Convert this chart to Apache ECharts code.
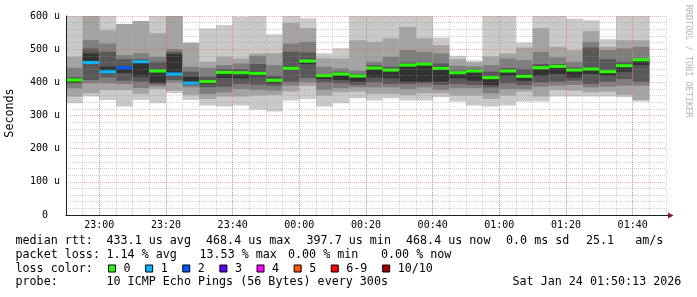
<!DOCTYPE html>
<html>
<head>
<meta charset="utf-8">
<title>smokeping</title>
<script src="https://cdn.jsdelivr.net/npm/echarts/dist/echarts.min.js"></script>
<style>
html, body { margin: 0; padding: 0; background: #fff; }
#chart { width: 697px; height: 297px; }
</style>
</head>
<body>
<div id="chart"></div>
<script>
/*每列的开始时间, 5分钟一步*/
var times = ['22:50','22:55','23:00','23:05','23:10','23:15','23:20','23:25','23:30','23:35',
    '23:40','23:45','23:50','23:55','00:00','00:05','00:10','00:15','00:20','00:25',
    '00:30','00:35','00:40','00:45','00:50','00:55','01:00','01:05','01:10','01:15',
    '01:20','01:25','01:30','01:35','01:40'];

/*sorted pings, us*/
var ping1  = [337,357,347,327,347,337,367,347,330,327,330,317,312,345,350,327,337,352,345,352,345,345,355,342,330,327,330,342,342,357,357,357,357,355,342];
var ping2  = [357,367,377,377,365,380,375,362,350,357,357,360,362,372,389,360,370,372,365,365,362,367,367,360,360,350,360,372,357,377,375,370,372,362,347];
var ping3  = [382,397,397,395,383,388,400,385,365,370,380,377,375,390,400,377,382,385,385,385,380,385,377,382,382,367,380,380,387,390,392,385,387,390,390];
var ping4  = [397,407,415,405,402,395,407,392,385,387,395,393,390,402,413,400,397,392,400,395,395,397,392,395,392,385,397,392,400,402,405,395,402,410,402];
var ping5  = [400,460,432,428,417,398,425,398,395,413,412,418,398,437,455,410,407,402,415,412,402,402,402,412,405,392,420,405,420,425,415,425,420,432,452];
var ping6  = [407,487,447,444,462,434,485,417,402,430,429,427,406,442,464,420,425,419,443,437,452,455,442,429,434,414,434,418,444,448,437,440,432,450,468];
var ping7  = [415,502,492,470,470,462,492,432,417,440,440,455,420,492,490,422,432,425,452,447,460,460,457,435,440,432,443,440,455,455,445,505,470,462,472];
var ping8  = [444,527,517,482,488,477,500,447,444,452,457,480,452,517,522,447,442,435,462,477,497,492,487,450,448,452,472,467,492,475,462,522,497,502,507];
var ping9  = [477,600,557,576,585,548,600,519,462,477,472,487,488,580,563,473,472,527,522,533,567,533,512,470,460,478,487,505,563,507,497,555,507,527,527];
var ping10 = [600,600,600,576,585,600,600,519,562,573,598,600,545,600,593,488,503,600,600,600,600,600,535,480,466,600,600,520,600,600,592,587,530,600,600];
var median = [407,460,432,444,462,434,425,398,402,430,429,427,406,442,464,420,425,419,443,437,452,455,442,429,434,414,434,418,444,448,437,440,432,450,468];
var loss   = [0,1,1,2,1,0,1,1,0,0,0,0,0,0,0,0,0,0,0,0,0,0,0,0,0,0,0,0,0,0,0,0,0,0,0];

/*刻度文字*/
var xLabels = ['23:00','23:20','23:40','00:00','00:20','00:40','01:00','01:20','01:40'];
var yLabels = ['0','100 u','200 u','300 u','400 u','500 u','600 u'];

var lossLabels = ['0','1','2','3','4','5','6-9','10/10'];
var lossColors = ['#26ff00','#00b8ff','#0059ff','#5e00ff','#ff00ff','#ff5500','#ff0000','#a10000'];
var smokeShades = ['#cacaca','#a4a4a4','#7e7e7e','#585858','#323232'];

var MONO = '"DejaVu Sans Mono", monospace';
var LEG_FONT = '11.7px ' + MONO;

// minutes since 23:00
function toMin(t) {
    var h = +t.slice(0, 2), m = +t.slice(3);
    var v = h * 60 + m;
    if (h < 12) v += 1440;
    return v - 1380;
}
function lossIndex(n) {
    if (n <= 5) return n;
    return n < 10 ? 6 : 7;
}

var pings = [ping1, ping2, ping3, ping4, ping5, ping6, ping7, ping8, ping9, ping10];
var data = times.map(function (t, i) {
    var row = [toMin(t)];
    pings.forEach(function (p) { row.push(p[i]); });
    row.push(median[i], loss[i]);
    return row;
});

function renderSmoke(params, api) {
    var x0 = api.value(0);
    var children = [];
    var left, right;
    for (var b = 0; b < 5; b++) {
        var lo = api.coord([x0, api.value(1 + b)]);
        var hi = api.coord([x0 + 5, api.value(10 - b)]);
        left = lo[0]; right = hi[0];
        children.push({
            type: 'rect',
            shape: {x: left, y: hi[1], width: right - left, height: lo[1] - hi[1]},
            style: {fill: smokeShades[b]}
        });
    }
    var m = api.coord([x0, api.value(11)]);
    children.push({
        type: 'rect',
        shape: {x: left, y: m[1] - 1.5, width: right - left, height: 3},
        style: {fill: lossColors[lossIndex(api.value(12))]}
    });
    return {type: 'group', children: children};
}

/*legend text*/
var graphics = [];
function addText(x, y, s) {
    graphics.push({type: 'text', x: x, y: y, z: 10,
        style: {text: s, font: LEG_FONT, fill: '#000', verticalAlign: 'middle'}});
}
addText(15.5, 241, 'median rtt:');
addText(106.5, 241, '433.1 us avg');
addText(206, 241, '468.4 us max');
addText(306.5, 241, '397.7 us min');
addText(406, 241, '468.4 us now');
addText(506, 241, '0.0 ms sd');
addText(586, 241, '25.1   am/s');

addText(15.5, 254.7, 'packet loss:');
addText(106.5, 254.7, '1.14 % avg');
addText(199.5, 254.7, '13.53 % max');
addText(288, 254.7, '0.00 % min');
addText(381, 254.7, '0.00 % now');

addText(15.5, 268.5, 'loss color:');
var sx = 108.5;
lossLabels.forEach(function (lab, i) {
    graphics.push({type: 'rect', z: 10,
        shape: {x: sx, y: 265, width: 7, height: 7},
        style: {fill: lossColors[i], stroke: '#000', lineWidth: 1}});
    addText(sx + 15, 268.5, lab);
    sx += 15.7 + lab.length * 7.13 + 14.3;
});

addText(15.5, 282.2, 'probe:');
addText(106.5, 282.2, '10 ICMP Echo Pings (56 Bytes) every 300s');
addText(512.5, 282.2, 'Sat Jan 24 01:50:13 2026');

graphics.push({type: 'text', x: 10, y: 113, rotation: Math.PI / 2, z: 10,
    style: {text: 'Seconds', font: LEG_FONT, fill: '#000', align: 'center', verticalAlign: 'middle'}});
graphics.push({type: 'text', x: 688, y: 61, rotation: -Math.PI / 2, z: 10,
    style: {text: 'RRDTOOL / TOBI OETIKER', font: '8.5px ' + MONO, fill: '#b4b4b4', align: 'center', verticalAlign: 'middle'}});

var gridGrey = 'rgba(143,143,143,0.42)';
var gridRed = 'rgba(222,79,79,0.45)';

var chart = echarts.init(document.getElementById('chart'));
var option = {
    animation: false,
    backgroundColor: '#fff',
    grid: {left: 66, right: 31, top: 16, bottom: 82},
    xAxis: [
        {
            type: 'value', min: -10, max: 170, interval: 5, z: 3,
            axisLine: {show: true, onZero: false, lineStyle: {color: '#1f1f1f', width: 1}},
            axisTick: {show: false},
            axisLabel: {show: false},
            splitLine: {show: true, lineStyle: {color: gridGrey, type: [1, 1]}}
        },
        {
            type: 'value', min: -10, max: 170, minInterval: 20, maxInterval: 20,
            position: 'bottom', z: 4,
            axisLine: {show: false, onZero: false},
            axisTick: {show: false},
            axisLabel: {
                margin: 10, verticalAlign: 'middle',
                showMinLabel: false, showMaxLabel: false,
                fontFamily: MONO, fontSize: 10, color: '#000',
                formatter: function (v) { return xLabels[v / 20] || ''; }
            },
            splitLine: {show: true, showMinLine: false, showMaxLine: false,
                lineStyle: {color: gridRed, type: [1, 1]}}
        }
    ],
    yAxis: {
        type: 'value', min: 0, max: 600, interval: 100, z: 3,
        axisLine: {show: true, onZero: false, lineStyle: {color: '#1f1f1f', width: 1}},
        axisTick: {show: false},
        axisLabel: {
            margin: 21, align: 'center',
            fontFamily: MONO, fontSize: 10, color: '#000',
            formatter: function (v) { return yLabels[v / 100] || ''; }
        },
        splitLine: {show: true, lineStyle: {color: gridRed, type: [1, 1]}},
        minorTick: {show: false, splitNumber: 5},
        minorSplitLine: {show: true, lineStyle: {color: gridGrey, type: [1, 1]}}
    },
    series: [{
        type: 'custom',
        xAxisIndex: 0,
        clip: true,
        renderItem: renderSmoke,
        encode: {x: 0, y: [1, 10]},
        data: data
    }],
    graphic: graphics
};
chart.setOption(option);

/*坐标轴箭头*/
var end = chart.convertToPixel({xAxisIndex: 0, yAxisIndex: 0}, [170, 0]);
var top = chart.convertToPixel({xAxisIndex: 0, yAxisIndex: 0}, [-10, 600]);
var arrowCol = '#801f1f';
graphics.push({type: 'line', z: 10, shape: {x1: end[0], y1: end[1] + 0.5, x2: end[0] + 3, y2: end[1] + 0.5},
    style: {stroke: '#1f1f1f', lineWidth: 1}});
graphics.push({type: 'polygon', z: 10,
    shape: {points: [[end[0] + 2, end[1] - 2.5], [end[0] + 7.5, end[1] + 0.5], [end[0] + 2, end[1] + 3.5]]},
    style: {fill: arrowCol}});
graphics.push({type: 'line', z: 10, shape: {x1: top[0] + 0.5, y1: top[1], x2: top[0] + 0.5, y2: top[1] - 3},
    style: {stroke: '#1f1f1f', lineWidth: 1}});
graphics.push({type: 'polygon', z: 10,
    shape: {points: [[top[0] - 2.5, top[1] - 2], [top[0] + 0.5, top[1] - 7.5], [top[0] + 3.5, top[1] - 2]]},
    style: {fill: arrowCol}});
chart.setOption({graphic: graphics});
</script>
</body>
</html>
